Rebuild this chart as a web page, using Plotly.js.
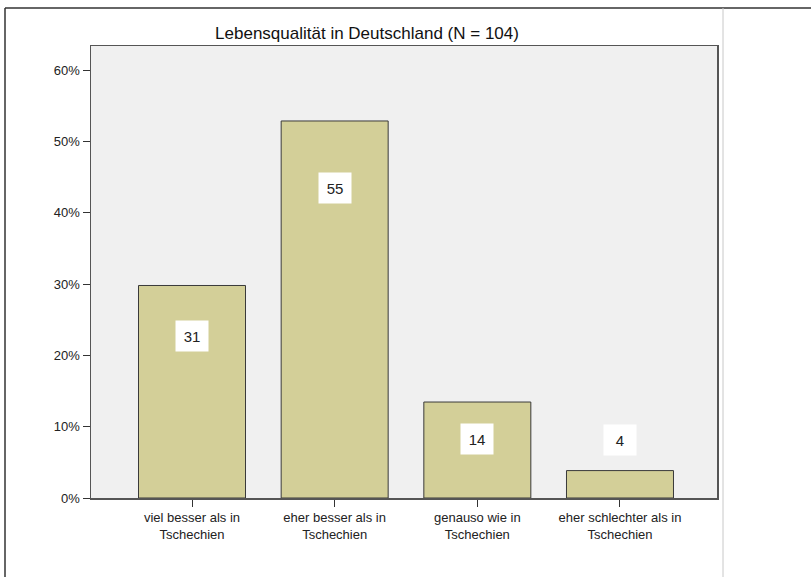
<!DOCTYPE html>
<html>
<head>
<meta charset="utf-8">
<script src="https://cdn.plot.ly/plotly-3.0.1.min.js"></script>
<style>
  html, body { margin: 0; padding: 0; background: #ffffff; }
  #chart { width: 811px; height: 577px; }
</style>
</head>
<body>
<div id="chart"></div>
<script>
// ---- data ----
const categories = [
  'viel besser als in Tschechien',
  'eher besser als in Tschechien',
  'genauso wie in Tschechien',
  'eher schlechter als in Tschechien'
];
const counts = [31, 55, 14, 4];
const N = 104;
const titleText = 'Lebensqualität in Deutschland (N = 104)';
const yTickVals = [0, 10, 20, 30, 40, 50, 60];

// ---- derived ----
const percents = counts.map(c => c / N * 100);
const tickText = categories.map(c => c.replace(' Tschechien', '<br>Tschechien'));

// label placement (layout, percent units)
const labelY = [22.7, 43.5, 8.3, 8.1];

const W = 811, H = 577;
const M = { l: 91, r: 94, t: 46, b: 79 };
const pw = W - M.l - M.r, ph = H - M.t - M.b;
const px2x = px => (px - M.l) / pw;
const py2y = py => (H - M.b - py) / ph;

const font = 'Arial, "Liberation Sans", sans-serif';

const trace = {
  type: 'bar',
  x: categories,
  y: percents,
  width: 0.75,
  marker: { color: '#d3cf98', line: { color: '#3a3a3a', width: 1 } },
  hoverinfo: 'x+y'
};

const annotations = categories.map((c, i) => ({
  x: c, y: labelY[i], xref: 'x', yref: 'y',
  text: String(counts[i]),
  showarrow: false,
  bgcolor: '#ffffff',
  width: 30, height: 28,
  font: { family: font, size: 15, color: '#222222' }
}));

const shapes = [
  { type: 'line', xref: 'paper', yref: 'paper', x0: px2x(5), x1: px2x(811), y0: py2y(8), y1: py2y(8),
    line: { color: '#333333', width: 1.5 } },
  { type: 'line', xref: 'paper', yref: 'paper', x0: px2x(5), x1: px2x(5), y0: py2y(8), y1: py2y(577),
    line: { color: '#333333', width: 1.5 } },
  { type: 'line', xref: 'paper', yref: 'paper', x0: px2x(723), x1: px2x(723), y0: py2y(8), y1: py2y(577),
    line: { color: '#c8c8c8', width: 1 } }
];

const layout = {
  width: W, height: H,
  margin: M,
  paper_bgcolor: '#ffffff',
  plot_bgcolor: '#f0f0f0',
  showlegend: false,
  font: { family: font, size: 13, color: '#222222' },
  title: {
    text: titleText,
    font: { family: font, size: 17, color: '#111111' },
    xref: 'paper', x: px2x(367), xanchor: 'center',
    yref: 'container', y: 1 - 33 / H, yanchor: 'middle'
  },
  xaxis: {
    type: 'category',
    categoryorder: 'array', categoryarray: categories,
    range: [-0.708, 3.68],
    tickmode: 'array', tickvals: categories, ticktext: tickText,
    ticks: 'outside', ticklen: 7, tickcolor: '#333333', tickwidth: 1,
    showline: true, linecolor: '#555555', linewidth: 1.5, mirror: true,
    showgrid: false, zeroline: false,
    tickfont: { family: font, size: 13, color: '#222222' }
  },
  yaxis: {
    range: [0, 63.4],
    tickmode: 'array', tickvals: yTickVals,
    ticktext: yTickVals.map(v => v + '%'),
    ticks: 'outside', ticklen: 7, tickcolor: '#333333', tickwidth: 1,
    showline: true, linecolor: '#555555', linewidth: 1.5, mirror: true,
    showgrid: false, zeroline: false,
    tickfont: { family: font, size: 13, color: '#222222' }
  },
  annotations: annotations,
  shapes: shapes
};

Plotly.newPlot('chart', [trace], layout, { displayModeBar: false, staticPlot: true });
</script>
</body>
</html>
